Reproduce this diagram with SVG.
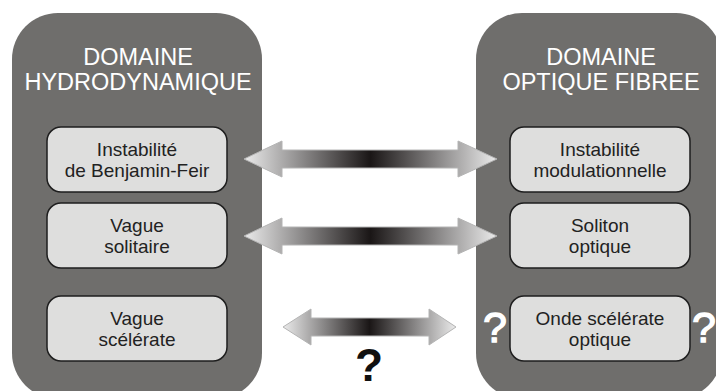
<svg xmlns="http://www.w3.org/2000/svg" width="716" height="391" viewBox="0 0 716 391">
<defs>
<linearGradient id="g" x1="0" y1="0" x2="1" y2="0">
<stop offset="0" stop-color="#ebebeb"/>
<stop offset="0.5" stop-color="#1a1616"/>
<stop offset="1" stop-color="#ebebeb"/>
</linearGradient>
<style>
.panel{fill:#6f6e6c}
.box{fill:#dededd;stroke:#1e1e1e;stroke-width:1.5}
.hd{font-family:"Liberation Sans",Arial,sans-serif;font-size:23.5px;fill:#ffffff;text-anchor:middle}
.bt{font-family:"Liberation Sans",Arial,sans-serif;font-size:19px;fill:#222222;text-anchor:middle}
.arr{fill:url(#g);stroke:#b4b4b4;stroke-width:1}
.qw{font-family:"Liberation Sans",Arial,sans-serif;font-size:43px;fill:#ffffff;stroke:#ffffff;stroke-width:1.3;text-anchor:middle}
.qb{font-family:"Liberation Sans",Arial,sans-serif;font-size:46px;font-weight:bold;fill:#111111;text-anchor:middle}
</style>
</defs>
<rect width="716" height="391" fill="#ffffff"/>
<g id="domaine-hydro">
<rect class="panel" x="12" y="13" width="250" height="386" rx="46"/>
<text class="hd" x="138" y="65">DOMAINE</text>
<text class="hd" x="138" y="90">HYDRODYNAMIQUE</text>
</g>
<g id="domaine-optique">
<rect class="panel" x="476" y="13" width="246" height="386" rx="46"/>
<text class="hd" x="601" y="65">DOMAINE</text>
<text class="hd" x="601" y="90">OPTIQUE FIBREE</text>
</g>
<g id="bf">
<rect class="box" x="47" y="127" width="180" height="65" rx="14"/>
<text class="bt" x="137" y="155.5">Instabilité</text>
<text class="bt" x="137" y="176.5">de Benjamin-Feir</text>
</g>
<g id="vs">
<rect class="box" x="47" y="203" width="180" height="65" rx="14"/>
<text class="bt" x="137" y="231.5">Vague</text>
<text class="bt" x="137" y="252.5">solitaire</text>
</g>
<g id="vsc">
<rect class="box" x="47" y="296" width="180" height="65" rx="14"/>
<text class="bt" x="137" y="324.5">Vague</text>
<text class="bt" x="137" y="345.5">scélérate</text>
</g>
<g id="im">
<rect class="box" x="510" y="127" width="180" height="65" rx="14"/>
<text class="bt" x="600" y="155.5">Instabilité</text>
<text class="bt" x="600" y="176.5">modulationnelle</text>
</g>
<g id="so">
<rect class="box" x="510" y="203" width="180" height="65" rx="14"/>
<text class="bt" x="600" y="231.5">Soliton</text>
<text class="bt" x="600" y="252.5">optique</text>
</g>
<g id="oso">
<rect class="box" x="510" y="296" width="180" height="65" rx="14"/>
<text class="bt" x="600" y="324.5">Onde scélérate</text>
<text class="bt" x="600" y="345.5">optique</text>
<text class="qw" x="495" y="342">?</text>
<text class="qw" x="704" y="342">?</text>
</g>
<g id="connectors">
<polygon class="arr" points="244,159 282,141 282,150 458,150 458,141 497,159 458,177 458,168 282,168 282,177"/>
<polygon class="arr" points="244,236 282,218 282,227 458,227 458,218 497,236 458,254 458,245 282,245 282,254"/>
<polygon class="arr" points="283,327 311,309 311,318 429,318 429,309 456,327 429,345 429,336 311,336 311,345"/>
<text class="qb" x="369" y="381">?</text>
</g>
</svg>
